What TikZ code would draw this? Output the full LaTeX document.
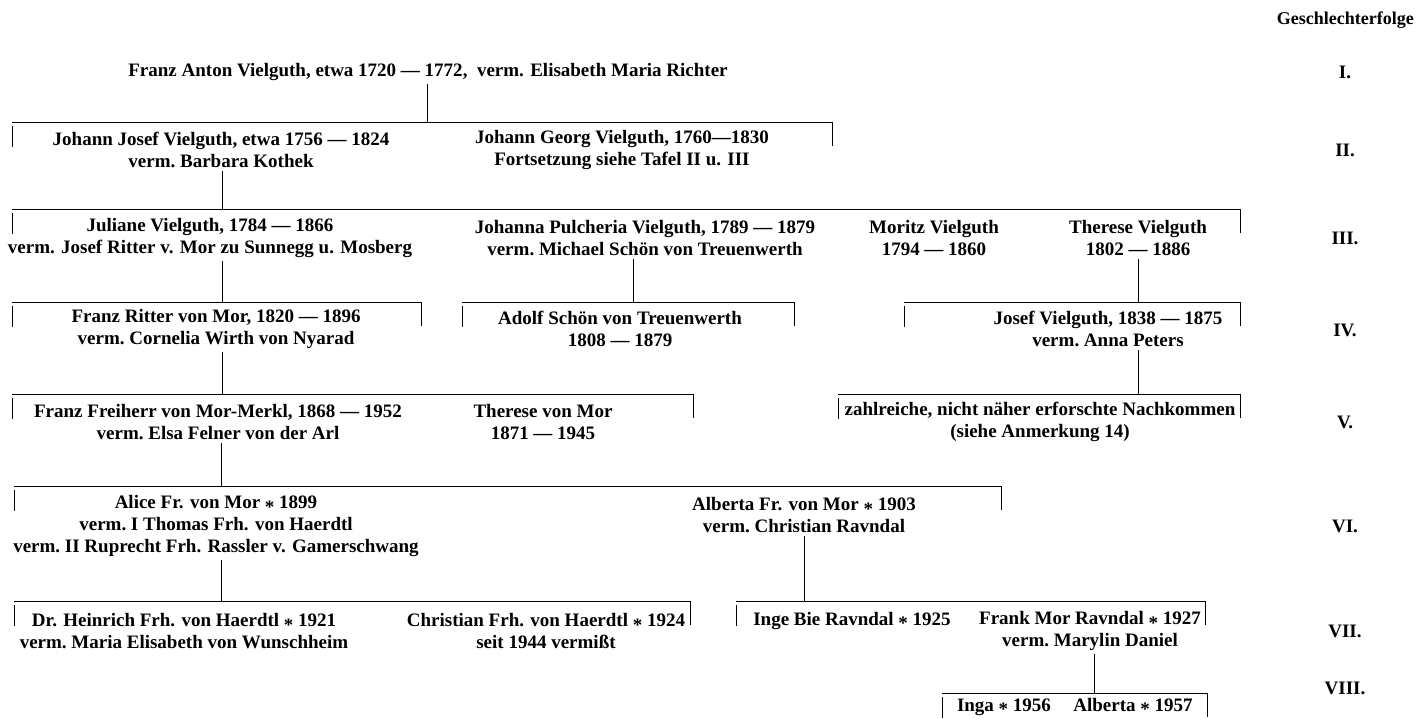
\documentclass[tikz,border=0pt]{standalone}
\usepackage{fontspec}
\setmainfont{Liberation Serif}
\newcommand{\geb}{\raisebox{-0.25em}{*}}
\begin{document}
\begin{tikzpicture}[x=1pt, y=-1pt,
		person/.style={align=center, inner sep=3pt, font=\fontsize{19}{22}\selectfont\bfseries},
		gen/.style={inner sep=0pt, font=\fontsize{19}{22}\selectfont\bfseries},
		bar/.style={line width=1pt}
		]
	\useasboundingbox (0,0) rectangle (1418,718);
	% Geschlechterfolge
	\node [gen, anchor=east, font=\fontsize{18}{22}\selectfont\bfseries] (gf) at (1414,20) {Geschlechterfolge};
	\node [gen] (g1) at (1345,72) {I.};
	\node [gen] (g2) at (1345,150) {II.};
	\node [gen] (g3) at (1345,238) {III.};
	\node [gen] (g4) at (1345,330) {IV.};
	\node [gen] (g5) at (1345,422) {V.};
	\node [gen] (g6) at (1345,526) {VI.};
	\node [gen] (g7) at (1345,631) {VII.};
	\node [gen] (g8) at (1345,688) {VIII.};

	% bars
	\coordinate (b2l) at (12,122);  \coordinate (b2r) at (832,122);
	\coordinate (b3l) at (12,209);  \coordinate (b3r) at (1240,209);
	\coordinate (b4l) at (12,302);  \coordinate (b4r) at (421,302);
	\coordinate (b4bl) at (462,302); \coordinate (b4br) at (794,302);
	\coordinate (b4cl) at (904,302); \coordinate (b4cr) at (1240,302);
	\coordinate (b5l) at (12,394);  \coordinate (b5r) at (693,394);
	\coordinate (b5bl) at (838,394); \coordinate (b5br) at (1240,394);
	\coordinate (b6l) at (14,486);  \coordinate (b6r) at (1001,486);
	\coordinate (b7l) at (14,601);  \coordinate (b7r) at (690,601);
	\coordinate (b7bl) at (736,601); \coordinate (b7br) at (1205,601);
	\coordinate (b8l) at (942,693); \coordinate (b8r) at (1207,693);
	\foreach \l/\r in {b2l/b2r, b3l/b3r, b4l/b4r, b4bl/b4br, b4cl/b4cr, b5l/b5r,
			b5bl/b5br, b6l/b6r, b7l/b7r, b7bl/b7br, b8l/b8r} {
		\draw [bar] (\l) -- (\r) -- ++(0,24);
		\draw [bar] (\l) ++(0,4) -- ++(0,21);
	}

	% I.
	\node [person] (fa) at (428,72) {Franz Anton Vielguth, etwa 1720 --- 1772,\ \ verm. Elisabeth Maria Richter};
	% II.
	\node [person] (jj) at (221,150) {Johann Josef Vielguth, etwa 1756 --- 1824\\verm.\ Barbara Kothek};
	\node [person] (jg) at (622,150) {Johann Georg Vielguth, 1760---1830\\Fortsetzung siehe Tafel II u. III};
	% III.
	\node [person] (jul) at (210,238) {Juliane Vielguth, 1784 --- 1866\\verm. Josef Ritter v. Mor zu Sunnegg u. Mosberg};
	\node [person] (jp) at (645,238) {Johanna Pulcheria Vielguth, 1789 --- 1879\\verm.\ Michael Schön von Treuenwerth};
	\node [person] (mo) at (934,238) {Moritz Vielguth\\1794 --- 1860};
	\node [person] (th) at (1138,238) {Therese Vielguth\\1802 --- 1886};
	% IV.
	\node [person] (frm) at (216,329) {Franz Ritter von Mor, 1820 --- 1896\\verm.\ Cornelia Wirth von Nyarad};
	\node [person] (ad) at (620,329) {Adolf Schön von Treuenwerth\\1808 --- 1879};
	\node [person] (jv) at (1108,329) {Josef Vielguth, 1838 --- 1875\\verm.\ Anna Peters};
	% V.
	\node [person] (ffm) at (218,422) {Franz Freiherr von Mor-Merkl, 1868 --- 1952\\verm.\ Elsa Felner von der Arl};
	\node [person] (tm) at (543,422) {Therese von Mor\\1871 --- 1945};
	\node [person] (za) at (1040,422) {zahlreiche, nicht näher erforschte Nachkommen\\(siehe Anmerkung 14)};
	% VI.
	\node [person] (al) at (216,526) {Alice Fr. von Mor \geb{} 1899\\verm.\ I Thomas Frh. von Haerdtl\\verm.\ II Ruprecht Frh. Rassler v. Gamerschwang};
	\node [person] (ab) at (804,515) {Alberta Fr. von Mor \geb{} 1903\\verm.\ Christian Ravndal};
	% VII.
	\node [person] (hh) at (184,631) {Dr. Heinrich Frh. von Haerdtl \geb{} 1921\\verm.\ Maria Elisabeth von Wunschheim};
	\node [person] (ch) at (546,631) {Christian Frh. von Haerdtl \geb{} 1924\\seit 1944 vermißt};
	\node [person] (fm) at (1090,631) {Frank Mor Ravndal \geb{} 1927\\verm.\ Marylin Daniel};
	\node [person, anchor=base] (ib) at (852,625) {Inge Bie Ravndal \geb{} 1925};
	% VIII.
	\node [person, anchor=base] (ig) at (1004,711) {Inga \geb{} 1956};
	\node [person, anchor=base] (alb) at (1133,711) {Alberta \geb{} 1957};

	% descents
	\coordinate (d2) at (427,122);
	\coordinate (d3) at (222,209);
	\coordinate (d4) at (222,302);
	\coordinate (d4b) at (633,302);
	\coordinate (d4c) at (1138,302);
	\coordinate (d5) at (222,394);
	\coordinate (d5b) at (1138,394);
	\coordinate (d6) at (221,486);
	\coordinate (d7) at (221,601);
	\coordinate (d7b) at (804,601);
	\coordinate (d8) at (1094,693);
	\draw [bar] (fa.south -| d2) -- (d2);
	\draw [bar] (jj.south -| d3) -- (d3);
	\draw [bar] (jul.south -| d4) -- (d4);
	\draw [bar] (jp.south -| d4b) -- (d4b);
	\draw [bar] (th.south -| d4c) -- (d4c);
	\draw [bar] (frm.south -| d5) -- (d5);
	\draw [bar] (jv.south -| d5b) -- (d5b);
	\draw [bar] (ffm.south -| d6) -- (d6);
	\draw [bar] (al.south -| d7) -- (d7);
	\draw [bar] (ab.south -| d7b) -- (d7b);
	\draw [bar] (fm.south -| d8) -- (d8);
\end{tikzpicture}
\end{document}
